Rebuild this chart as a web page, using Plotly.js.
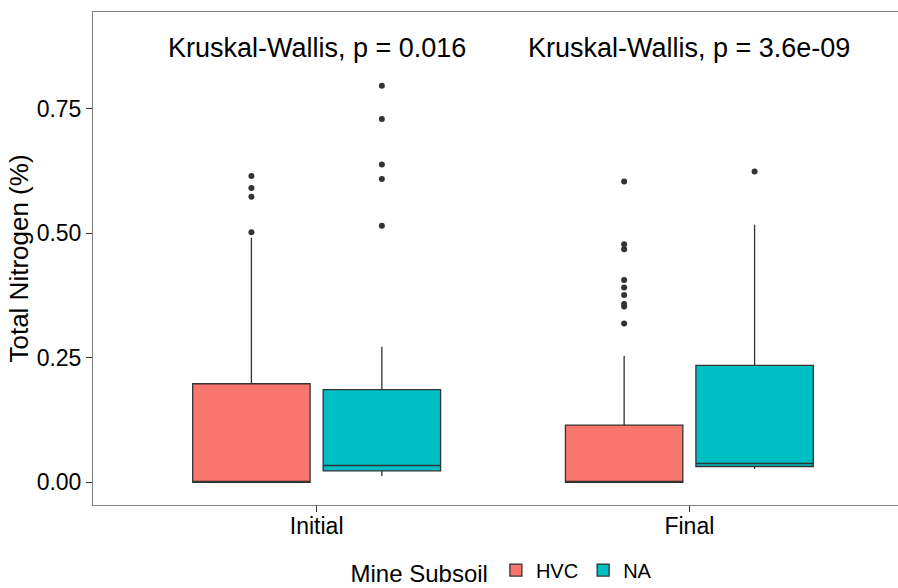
<!DOCTYPE html>
<html>
<head>
<meta charset="utf-8">
<script src="https://cdn.plot.ly/plotly-3.0.1.min.js"></script>
<style>
html, body { margin: 0; padding: 0; overflow: hidden; background: #fff; }
#chart { width: 920px; height: 588px; }
</style>
</head>
<body>
<div id="chart"></div>
<script>
// Categories
var categories = ['Initial', 'Final'];

// HVC box statistics
var hvcQ1 = [0.000, 0.000];
var hvcMedian = [0.000, 0.000];
var hvcQ3 = [0.198, 0.115];
var hvcLower = [0.000, 0.000];
var hvcUpper = [0.491, 0.254];
var hvcOutliers = [
  [0.502, 0.573, 0.591, 0.615],
  [0.319, 0.353, 0.358, 0.376, 0.391, 0.406, 0.468, 0.478, 0.604]
];

// NA box statistics
var naQ1 = [0.023, 0.032];
var naMedian = [0.034, 0.038];
var naQ3 = [0.186, 0.235];
var naLower = [0.013, 0.027];
var naUpper = [0.272, 0.517];
var naOutliers = [
  [0.515, 0.609, 0.638, 0.729, 0.796],
  [0.624]
];

// Test annotations
var pLabels = ['Kruskal-Wallis, p = 0.016', 'Kruskal-Wallis, p = 3.6e-09'];

var yTicks = [0, 0.25, 0.5, 0.75];

function flattenOutliers(lists) {
  var xs = [], ys = [];
  lists.forEach(function (vals, i) {
    vals.forEach(function (v) { xs.push(categories[i]); ys.push(v); });
  });
  return {x: xs, y: ys};
}

var boxLine = {color: '#333333', width: 1.3};

var hvcBox = {
  type: 'box', name: 'HVC', x: categories,
  q1: hvcQ1, median: hvcMedian, q3: hvcQ3,
  lowerfence: hvcLower, upperfence: hvcUpper,
  fillcolor: '#F8766D', line: boxLine, whiskerwidth: 0,
  offsetgroup: 'HVC', boxpoints: false, hoverinfo: 'y'
};
var naBox = {
  type: 'box', name: 'NA', x: categories,
  q1: naQ1, median: naMedian, q3: naQ3,
  lowerfence: naLower, upperfence: naUpper,
  fillcolor: '#00BFC4', line: boxLine, whiskerwidth: 0,
  offsetgroup: 'NA', boxpoints: false, hoverinfo: 'y'
};

var hvcOut = flattenOutliers(hvcOutliers);
var naOut = flattenOutliers(naOutliers);

var dotMarker = {color: '#333333', size: 6};
var hvcPts = {
  type: 'scatter', mode: 'markers', x: hvcOut.x, y: hvcOut.y,
  marker: dotMarker, showlegend: false, orientation: 'v',
  offsetgroup: 'HVC', name: 'HVC'
};
var naPts = {
  type: 'scatter', mode: 'markers', x: naOut.x, y: naOut.y,
  marker: dotMarker, showlegend: false, orientation: 'v',
  offsetgroup: 'NA', name: 'NA'
};

var annotations = pLabels.map(function (t, i) {
  return {
    text: t, x: categories[i], y: 0.871, xref: 'x', yref: 'y',
    showarrow: false, xanchor: 'center', yanchor: 'middle',
    font: {family: 'Liberation Sans, Arial, sans-serif', size: 27, color: '#000'}
  };
});

var layout = {
  width: 920, height: 588,
  margin: {l: 93, r: 7, t: 12, b: 83, autoexpand: false},
  paper_bgcolor: '#fff', plot_bgcolor: '#fff',
  font: {family: 'Liberation Sans, Arial, sans-serif', color: '#000'},
  boxmode: 'group', boxgap: 0.3, boxgroupgap: 0.1,
  scattermode: 'group', scattergap: 0.3,
  showlegend: true,
  legend: {
    orientation: 'h', x: 0.5, xanchor: 'center',
    yref: 'container', y: 0.028, yanchor: 'middle',
    title: {text: 'Mine Subsoil', side: 'left', font: {size: 24, color: '#000'}},
    font: {size: 20, color: '#000'}, itemclick: false
  },
  xaxis: {
    type: 'category', categoryorder: 'array', categoryarray: categories,
    range: [-0.6, 1.6],
    showline: true, mirror: true, linecolor: '#7f7f7f', linewidth: 1,
    ticks: 'outside', ticklen: 6, tickcolor: '#333333', tickwidth: 1,
    ticklabelstandoff: -6,
    tickfont: {size: 23, color: '#000'}, showgrid: false, zeroline: false
  },
  yaxis: {
    range: [-0.0453, 0.9439],
    tickvals: yTicks, tickformat: '.2f',
    showline: true, mirror: true, linecolor: '#7f7f7f', linewidth: 1,
    ticks: 'outside', ticklen: 6, tickcolor: '#333333', tickwidth: 1,
    tickfont: {size: 23, color: '#000'}, showgrid: false, zeroline: false,
    title: {text: 'Total Nitrogen (%)', font: {size: 26, color: '#000'}, standoff: 0}
  },
  annotations: annotations
};

Plotly.newPlot('chart', [hvcBox, naBox, hvcPts, naPts], layout, {displayModeBar: false, staticPlot: true});
</script>
</body>
</html>
